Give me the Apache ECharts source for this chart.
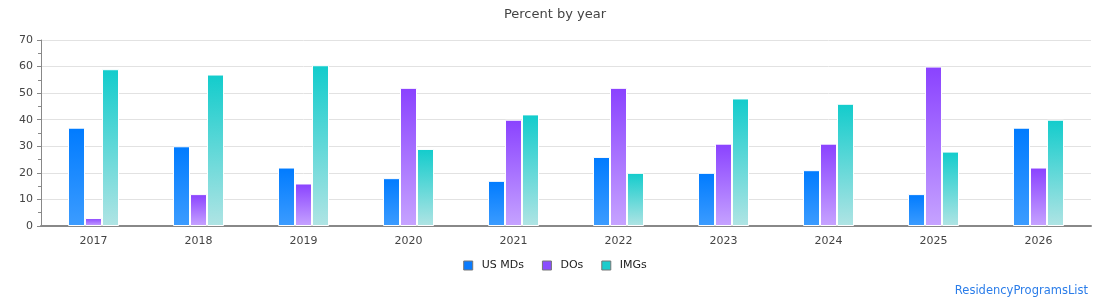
<!DOCTYPE html>
<html>
<head>
<meta charset="utf-8">
<script src="https://cdn.jsdelivr.net/npm/echarts@6/dist/echarts.min.js"></script>
<style>
  html, body { margin: 0; padding: 0; background: #fff; }
  #chart { width: 1110px; height: 300px; }
</style>
</head>
<body>
<div id="chart"></div>
<script>
const years = ['2017', '2018', '2019', '2020', '2021', '2022', '2023', '2024', '2025', '2026'];
const usMDs = [37, 30, 22, 18, 17, 26, 20, 21, 12, 37];
const DOs = [3, 12, 16, 52, 40, 52, 31, 31, 60, 22];
const IMGs = [59, 57, 60.5, 29, 42, 20, 48, 46, 28, 40];

const grad = (top, bottom) =>
  new echarts.graphic.LinearGradient(0, 0, 0, 1, [
    { offset: 0, color: top },
    { offset: 1, color: bottom },
  ]);

const mkSeries = (name, data, top, bottom) => ({
  name,
  type: 'bar',
  data,
  barWidth: 17,
  barGap: '0%',
  itemStyle: {
    color: grad(top, bottom),
    borderColor: '#fff',
    borderWidth: 1,
  },
});

const myChart = echarts.init(document.getElementById('chart'));

const option = {
  animation: false,
  textStyle: { fontFamily: 'DejaVu Sans' },
  title: {
    text: 'Percent by year',
    left: 'center',
    top: 3,
    textStyle: { fontSize: 13, fontWeight: 'normal', color: '#444' },
  },
  legend: {
    bottom: 24,
    left: 'center',
    itemWidth: 9,
    itemHeight: 9,
    itemGap: 18,
    icon: 'rect',
    itemStyle: { borderColor: '#777', borderWidth: 1 },
    textStyle: { fontSize: 11, color: '#222', padding: [0, 0, 0, 4] },
    data: [
      { name: 'US MDs', itemStyle: { color: '#0a7cff' } },
      { name: 'DOs', itemStyle: { color: '#8a4dff' } },
      { name: 'IMGs', itemStyle: { color: '#1ccccc' } },
    ],
  },
  grid: { left: 41, right: 19, top: 40, bottom: 74 },
  xAxis: {
    type: 'category',
    data: years,
    axisLine: { lineStyle: { color: '#888', width: 2 } },
    axisTick: { show: false },
    axisLabel: { color: '#444', fontSize: 11, margin: 10 },
  },
  yAxis: {
    type: 'value',
    min: 0,
    max: 70,
    interval: 10,
    axisLine: { show: true, lineStyle: { color: '#888' } },
    axisTick: { show: true, length: 4, lineStyle: { color: '#888' } },
    minorTick: { show: true, splitNumber: 2, length: 3, lineStyle: { color: '#888' } },
    splitLine: { lineStyle: { color: '#e2e2e2' } },
    axisLabel: { color: '#444', fontSize: 11, margin: 8 },
  },
  graphic: [
    {
      type: 'text',
      right: 22,
      bottom: 3,
      style: { text: 'ResidencyProgramsList', fill: '#2b7de9', fontSize: 11.5, fontFamily: 'DejaVu Sans' },
    },
  ],
  series: [
    mkSeries('US MDs', usMDs, '#007bff', '#3c9cff'),
    mkSeries('DOs', DOs, '#8a42ff', '#c6a3ff'),
    mkSeries('IMGs', IMGs, '#12cccc', '#b0e4e4'),
  ],
};

myChart.setOption(option);
</script>
</body>
</html>
